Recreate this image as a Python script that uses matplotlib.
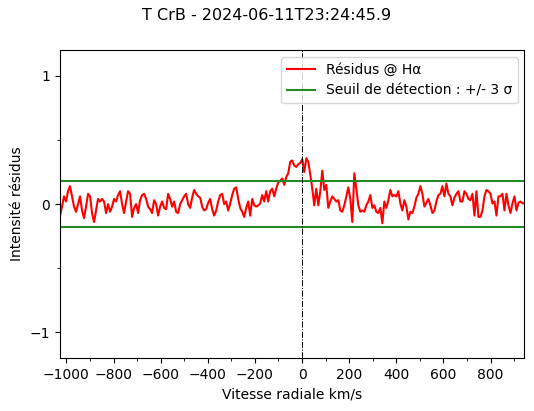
import numpy as np
import matplotlib
matplotlib.use("Agg")
import matplotlib.pyplot as plt
from matplotlib.ticker import MultipleLocator

title = "T CrB - 2024-06-11T23:24:45.9"
v_min, v_max = -1027, 944
seuil = 0.18

residus = [
    # -1027 .. -680
    -0.09, -0.02, 0.06, 0.02, 0.10, 0.14, 0.06, -0.02, -0.06, 0.00,
    0.06, -0.05, -0.11, -0.02, 0.08, 0.06, -0.07, -0.14, -0.05, 0.04,
    0.02, 0.04, 0.02, -0.07, 0.00, -0.06, -0.02, 0.04, 0.02, 0.07,
    0.10, 0.00, -0.07, 0.02, 0.10, 0.08, -0.10, -0.03, 0.00, -0.07,
    0.03, 0.07,
    # -680 .. -340
    0.08, 0.04, -0.02, -0.04, -0.07, 0.03, 0.00, -0.09, -0.02, 0.02,
    -0.03, -0.04, 0.08, 0.04, -0.02, 0.02, -0.06, -0.07, 0.00, 0.03,
    0.06, 0.08, 0.00, -0.03, 0.05, 0.11, 0.08, 0.06, 0.05, -0.02,
    -0.05, -0.04, 0.01, 0.04, -0.04, -0.09, -0.05, 0.02, 0.07, 0.08,
    # -340 .. 0
    0.00, 0.02, -0.05, 0.005, 0.07, 0.12, 0.13, 0.04, -0.03, -0.06,
    -0.10, -0.03, 0.02, -0.09, 0.04, -0.01, -0.02, -0.01, 0.005, 0.07,
    0.02, 0.10, 0.02, 0.10, 0.12, 0.06, 0.12, 0.17, 0.18, 0.20,
    0.15, 0.21, 0.24, 0.33, 0.34, 0.30, 0.29, 0.31, 0.32, 0.35,
    # 0 .. 335
    0.25, 0.357, 0.33, 0.23, 0.12, -0.01, 0.12, -0.01, 0.10, 0.26,
    0.11, 0.15, -0.03, 0.02, 0.06, 0.04, 0.02, 0.03, -0.05, -0.06,
    -0.01, 0.06, 0.13, 0.04, -0.14, 0.24, 0.12, -0.01, -0.06, -0.05,
    -0.06, -0.01, 0.02, 0.07, -0.03, -0.01, -0.06, -0.07, -0.03, -0.15,
    # 335 .. 670
    0.02, -0.03, 0.03, 0.11, 0.06, 0.07, 0.06, 0.10, 0.005, -0.05,
    0.03, -0.02, -0.12, -0.06, -0.07, -0.02, 0.05, 0.08, 0.14, 0.08,
    -0.02, 0.01, 0.04, -0.01, -0.07, -0.05, 0.02, 0.07, 0.08, 0.14,
    0.06, 0.16, 0.08, 0.06, -0.01, 0.05, 0.08, 0.10, 0.02, 0.02,
    # 670 .. 944
    0.10, 0.08, 0.04, 0.03, 0.08, -0.09, 0.10, -0.10, -0.10, -0.05,
    0.06, 0.11, 0.10, 0.08, 0.005, 0.02, -0.09, 0.06, 0.06, 0.08,
    -0.05, 0.08, -0.01, -0.07, 0.005, 0.06, -0.05, 0.01, 0.02, 0.005,
    0.01,
]
vitesse = np.linspace(v_min, v_max, len(residus))

fig = plt.figure(figsize=(5.34, 4.11), dpi=100)
ax = fig.add_axes([0.1124, 0.129, 0.8698, 0.749])

ax.plot(vitesse, residus, color="red", lw=1.5, label="Résidus @ Hα")
ax.axhline(seuil, color="forestgreen", lw=1.5, label="Seuil de détection : +/- 3 σ")
ax.axhline(-seuil, color="forestgreen", lw=1.5)
ax.axvline(0, color="black", lw=0.7, ls="-.")

ax.set_xlim(v_min, v_max)
ax.set_ylim(-1.2, 1.2)
ax.xaxis.set_major_locator(MultipleLocator(200))
ax.xaxis.set_minor_locator(MultipleLocator(100))
ax.yaxis.set_major_locator(MultipleLocator(1))
ax.yaxis.set_minor_locator(MultipleLocator(0.5))

ax.set_xlabel("Vitesse radiale km/s")
ax.set_ylabel("Intensité résidus")
ax.legend(loc="upper right")
fig.suptitle(title, fontsize=11.5)

fig.savefig("out.png", dpi=100)
